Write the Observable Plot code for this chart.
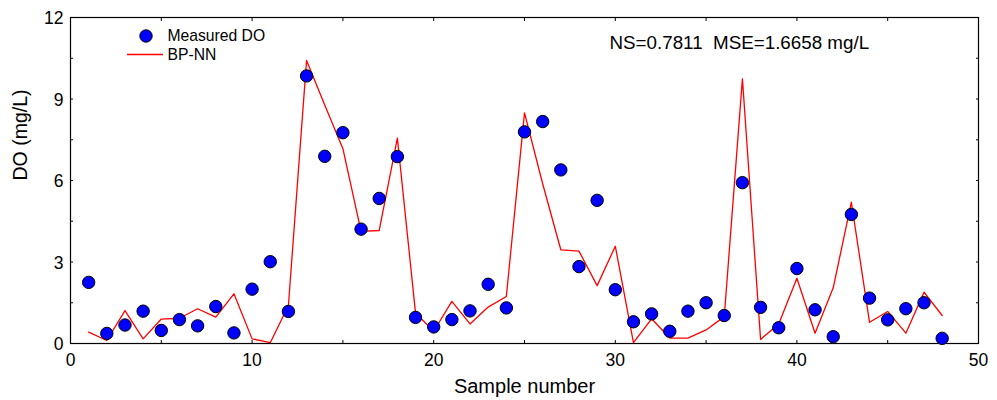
<!DOCTYPE html>
<html><head><meta charset="utf-8">
<script src="https://cdn.jsdelivr.net/npm/d3@7"></script>
<script src="https://cdn.jsdelivr.net/npm/@observablehq/plot@0.6"></script>
<style>body{margin:0;background:#fff;}</style>
</head><body><div id="chart"></div>
<script>
const samples = [1,2,3,4,5,6,7,8,9,10,11,12,13,14,15,16,17,18,19,20,21,22,23,24,25,26,27,28,29,30,31,32,33,34,35,36,37,38,39,40,41,42,43,44,45,46,47,48];
const measured = [2.25,0.37,0.68,1.19,0.48,0.88,0.65,1.36,0.39,2.0,3.01,1.18,
  9.85,6.89,7.76,4.21,5.34,6.88,0.96,0.61,0.88,1.2,2.18,1.31,
  7.79,8.17,6.39,2.83,5.27,1.98,0.8,1.09,0.45,1.19,1.5,1.03,
  5.92,1.33,0.58,2.76,1.24,0.25,4.75,1.67,0.87,1.28,1.5,0.19];
const predicted = [0.42,0.11,1.21,0.17,0.9,0.93,1.28,0.97,1.83,0.17,0.03,1.4,
  10.42,8.78,7.17,4.13,4.16,7.56,1.12,0.45,1.55,0.72,1.34,1.73,
  8.49,5.88,3.45,3.4,2.13,3.58,0.03,0.91,0.2,0.2,0.5,0.99,
  9.74,0.15,0.72,2.4,0.38,2.05,5.2,0.78,1.18,0.38,1.89,1.03];
const xTicks = [0,10,20,30,40,50];
const xAllTicks = [0,5,10,15,20,25,30,35,40,45,50];
const yTicks = [0,3,6,9,12];
const yAllTicks = [0,1.5,3,4.5,6,7.5,9,10.5,12];
const seriesNames = ["Measured DO", "BP-NN"];
const xTitle = "Sample number";
const yTitle = "DO (mg/L)";
const statsText = "NS=0.7811\u00a0\u00a0MSE=1.6658 mg/L";

const measuredData = samples.map((s, i) => ({sample: s, value: measured[i]}));
const predictedData = samples.map((s, i) => ({sample: s, value: predicted[i]}));

const legendLine = (index, scales, values, dims) => {
  const l = document.createElementNS("http://www.w3.org/2000/svg", "line");
  l.setAttribute("x1", dims.marginLeft + 57);
  l.setAttribute("x2", dims.marginLeft + 93);
  l.setAttribute("y1", dims.marginTop + 37.5);
  l.setAttribute("y2", dims.marginTop + 37.5);
  l.setAttribute("stroke", "#ff0000");
  l.setAttribute("stroke-width", 1.3);
  return l;
};

const chart = Plot.plot({
  width: 997,
  height: 400,
  marginLeft: 70,
  marginRight: 19,
  marginTop: 17,
  marginBottom: 57,
  style: {fontFamily: "'Liberation Sans', Arial, sans-serif", fontSize: "17px", color: "black", background: "white"},
  x: {domain: [0, 50]},
  y: {domain: [0, 12]},
  marks: [
    Plot.frame({stroke: "black", strokeWidth: 1.2}),
    Plot.axisX({anchor: "bottom", ticks: xAllTicks, tickSize: -3, tickFormat: () => "", label: null}),
    Plot.axisX({anchor: "top", ticks: xAllTicks, tickSize: -3, tickFormat: () => "", label: null}),
    Plot.axisY({anchor: "left", ticks: yAllTicks, tickSize: -3, tickFormat: () => "", label: null}),
    Plot.axisY({anchor: "right", ticks: yAllTicks, tickSize: -3, tickFormat: () => "", label: null}),
    Plot.axisX({anchor: "bottom", ticks: xTicks, tickSize: 0, tickPadding: 10, label: null, fontSize: 17.5}),
    Plot.axisY({anchor: "left", ticks: yTicks, tickSize: 0, tickPadding: 7, label: null, fontSize: 17.5, dy: 1}),
    Plot.text([xTitle], {frameAnchor: "bottom", dy: 43, fontSize: 20, lineAnchor: "middle"}),
    Plot.text([yTitle], {frameAnchor: "left", dx: -50, rotate: -90, fontSize: 19.5, lineAnchor: "middle"}),
    Plot.line(predictedData, {x: "sample", y: "value", stroke: "#ff0000", strokeWidth: 1.3}),
    Plot.dot(measuredData, {x: "sample", y: "value", r: 6.2, fill: "#0000ff", stroke: "black", strokeWidth: 1, fillOpacity: 1}),
    Plot.dot([seriesNames[0]], {frameAnchor: "top-left", dx: 75.5, dy: 18.5, r: 6.2, fill: "#0000ff", stroke: "black", strokeWidth: 1}),
    legendLine,
    Plot.text([seriesNames[0]], {frameAnchor: "top-left", dx: 97, dy: 18.5, textAnchor: "start", lineAnchor: "middle", fontSize: 15.7}),
    Plot.text([seriesNames[1]], {frameAnchor: "top-left", dx: 97, dy: 37.5, textAnchor: "start", lineAnchor: "middle", fontSize: 15.7}),
    Plot.text([statsText], {frameAnchor: "top-left", dx: 539, dy: 25, textAnchor: "start", lineAnchor: "middle", fontSize: 18.8})
  ]
});
document.getElementById("chart").appendChild(chart);
</script>
</body></html>
